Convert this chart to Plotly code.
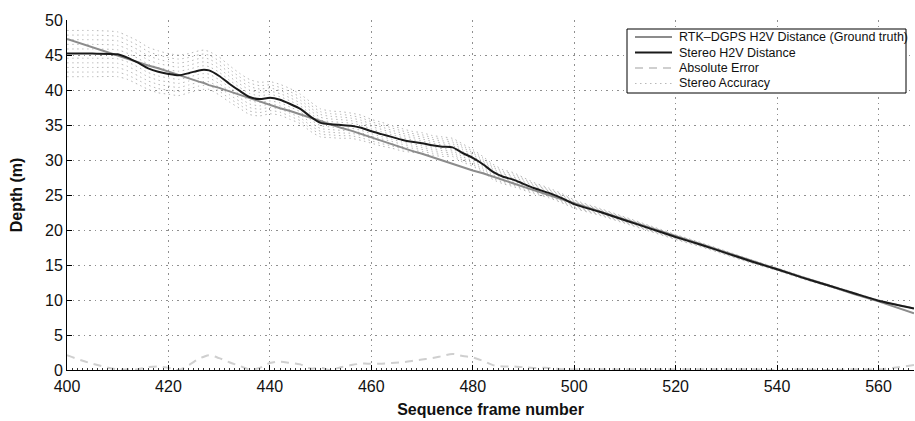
import numpy as np
import plotly.graph_objects as go

# Sequence frames at which the depths were sampled
frames = [400, 405, 410, 412, 414, 416, 418, 420, 422, 424, 426, 427, 428, 430,
          432, 434, 436, 438, 440, 442, 444, 446, 448, 450, 452, 454, 456, 458,
          460, 462, 464, 466, 468, 470, 472, 474, 476, 478, 480, 482, 484, 486,
          488, 490, 492, 495, 498, 500, 505, 510, 515, 520, 525, 530, 535, 540,
          545, 550, 555, 560, 567]

# RTK-DGPS head-to-vehicle distance (ground truth), metres
ground_truth = [47.3, 46.1, 45.0, 44.5, 44.0, 43.5, 43.1, 42.6, 42.1, 41.7,
                41.2, 41.0, 40.7, 40.3, 39.8, 39.3, 38.9, 38.4, 37.9, 37.4,
                37.0, 36.5, 36.0, 35.6, 35.1, 34.6, 34.2, 33.7, 33.2, 32.8,
                32.3, 31.8, 31.3, 30.9, 30.4, 29.9, 29.5, 29.0, 28.5, 28.1,
                27.6, 27.1, 26.7, 26.2, 25.7, 25.0, 24.3, 23.8, 22.7, 21.5,
                20.3, 19.1, 18.0, 16.8, 15.6, 14.4, 13.3, 12.1, 10.9, 9.8, 8.1]

# Stereo head-to-vehicle distance, metres
stereo = [45.2, 45.2, 45.1, 44.6, 43.9, 43.1, 42.6, 42.3, 42.1, 42.4,
          42.8, 42.9, 42.8, 42.0, 40.9, 39.9, 39.0, 38.7, 38.9, 38.6,
          38.0, 37.3, 36.2, 35.3, 35.1, 35.0, 34.9, 34.6, 34.1, 33.7,
          33.3, 32.9, 32.6, 32.4, 32.1, 31.9, 31.8, 31.0, 30.3, 29.4,
          28.3, 27.6, 27.2, 26.6, 26.0, 25.3, 24.4, 23.7, 22.6, 21.4,
          20.2, 19.0, 17.9, 16.7, 15.5, 14.4, 13.2, 12.1, 11.0, 9.9, 8.8]

# Half-width of the stereo accuracy band, metres
accuracy = [3.3, 3.3, 3.2, 3.1, 3.1, 3.0, 3.0, 2.9, 2.9, 2.8,
            2.8, 2.8, 2.7, 2.7, 2.6, 2.5, 2.5, 2.4, 2.3, 2.2,
            2.2, 2.1, 2.1, 2.0, 1.9, 1.9, 1.8, 1.8, 1.7, 1.7,
            1.6, 1.6, 1.5, 1.5, 1.4, 1.4, 1.3, 1.3, 1.2, 1.1,
            1.1, 1.0, 1.0, 0.9, 0.8, 0.7, 0.65, 0.6, 0.5, 0.45,
            0.4, 0.35, 0.3, 0.27, 0.24, 0.2, 0.18, 0.16, 0.14, 0.12, 0.1]

# Fractions of the accuracy half-width drawn as dotted contours
band_fractions = [-1.0, -0.8, -0.6, -0.4, -0.2, 0.2, 0.4, 0.6, 0.8, 1.0]

x_ticks = [400, 420, 440, 460, 480, 500, 520, 540, 560]
y_ticks = [0, 5, 10, 15, 20, 25, 30, 35, 40, 45, 50]

legend_labels = ["RTK–DGPS H2V Distance (Ground truth)", "Stereo H2V Distance",
                 "Absolute Error", "Stereo Accuracy"]

FONT = "Liberation Sans, Arial, Helvetica, sans-serif"
C_GT = "#8c8c8c"
C_ST = "#1a1a1a"
C_ERR = "#cfcfcf"
C_ACC = "#b8b8b8"
ACC_DASH = "1.5px,3.5px"

st = np.array(stereo)
gt = np.array(ground_truth)
acc = np.array(accuracy)
abs_error = np.abs(st - gt)

fig = go.Figure()

for f in band_fractions:
    fig.add_trace(go.Scatter(x=frames, y=st + f * acc, mode="lines",
                             line=dict(color=C_ACC, width=1, dash=ACC_DASH,
                                       shape="spline", smoothing=0.6),
                             showlegend=False, hoverinfo="skip"))

fig.add_trace(go.Scatter(x=frames, y=abs_error, mode="lines",
                         line=dict(color=C_ERR, width=2, dash="8px,6px", shape="spline"),
                         showlegend=False))
fig.add_trace(go.Scatter(x=frames, y=gt, mode="lines",
                         line=dict(color=C_GT, width=2), showlegend=False))
fig.add_trace(go.Scatter(x=frames, y=st, mode="lines",
                         line=dict(color=C_ST, width=2, shape="spline", smoothing=0.6),
                         showlegend=False))

# Plot-area geometry (pixels) used to place the legend box in paper units
W, H = 915, 421
L, R, T, B = 67, 1, 20, 51
pw, ph = W - L - R, H - T - B


def px(xp):
    return (xp - L) / pw


def py(yp):
    return (H - B - yp) / ph


fig.add_shape(type="rect", xref="paper", yref="paper",
              x0=px(627), x1=px(906), y0=py(93), y1=py(29),
              line=dict(color="black", width=1), fillcolor="white", layer="above")

legend_styles = [dict(color=C_GT, width=2), dict(color=C_ST, width=2),
                 dict(color=C_ERR, width=2, dash="8px,6px"),
                 dict(color=C_ACC, width=1, dash=ACC_DASH)]
row_y = [37, 52.5, 68, 83.5]
for label, style, yy in zip(legend_labels, legend_styles, row_y):
    fig.add_shape(type="line", xref="paper", yref="paper",
                  x0=px(635), x1=px(672), y0=py(yy), y1=py(yy),
                  line=style, layer="above")
    fig.add_annotation(x=px(677), y=py(yy), xref="paper", yref="paper",
                       text=label, showarrow=False, xanchor="left", yanchor="middle",
                       font=dict(family=FONT, size=12.5, color="#111"))

axis_common = dict(showline=True, linecolor="black", linewidth=1,
                   ticks="inside", ticklen=5, tickcolor="black",
                   showgrid=True, gridcolor="#8f8f8f", griddash="1.5px,4px", gridwidth=1,
                   zeroline=False, mirror=False,
                   tickfont=dict(family=FONT, size=16, color="#111"))

fig.update_xaxes(range=[400, 567], tickvals=x_ticks, ticklabelstandoff=2,
                 minor=dict(dtick=1, ticks="inside", ticklen=2, tickcolor="#333",
                            showgrid=False),
                 title=dict(text="<b>Sequence frame number</b>", standoff=9,
                            font=dict(family=FONT, size=16, color="#111")),
                 **axis_common)
fig.update_yaxes(range=[0, 50], tickvals=y_ticks,
                 title=dict(text="<b>Depth (m)</b>", standoff=18,
                            font=dict(family=FONT, size=16, color="#111")),
                 **axis_common)

fig.update_layout(width=W, height=H,
                  margin=dict(l=L, r=R, t=T, b=B, autoexpand=False),
                  paper_bgcolor="white", plot_bgcolor="white",
                  font=dict(family=FONT))

fig.write_html("out.html")
